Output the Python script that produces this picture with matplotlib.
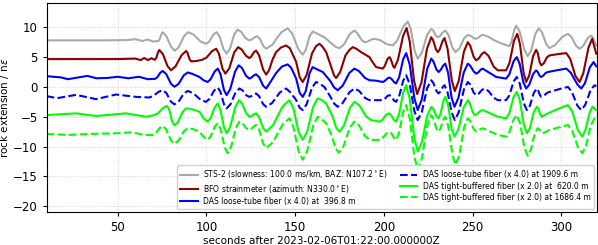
import matplotlib
matplotlib.use("Agg")
from matplotlib import pyplot as plt

# DATA (seconds / n-strain) ###################################
sts_t = [10, 40, 55, 60, 64, 67, 70, 73, 73.7, 74.7, 75.4, 77.4, 80.2, 82.2, 84.5, 87.5, 89.7, 92.7, 96.8, 99.8,
         101.6, 104, 105.8, 107.5, 109.7, 111.4, 113.3, 115.7, 117.6, 119.6, 122.2, 124.2, 125.5, 127.3, 128.6,
         130.1, 132.2, 133.7, 137.3, 139.8, 142.2, 145.8, 148.4, 151.8, 154.3, 156, 158.2, 159.9, 162, 166.5,
         170.5, 173, 175, 177.5, 180.8, 183.3, 185, 187.4, 189.1, 190.8, 193, 194.7, 197.8, 201.9, 205, 207.5,
         211, 213.5, 215.2, 217.4, 219.1, 221.4, 224.4, 226.7, 227.8, 229.3, 230.4, 231.7, 233.4, 234.7, 236.4,
         238.7, 240.4, 242.5, 245.2, 247.3, 248.7, 250.6, 252, 253.1, 254.6, 255.7, 259, 263, 267, 270.8, 271.9,
         273.5, 274.6, 276.6, 279.2, 281.1, 283, 285.4, 287.3, 289.1, 291.5, 293.3, 296.4, 300.6, 303.7, 305.7,
         308.3, 310.3, 312.3, 314.9, 316.9, 317.7, 319.7]
sts_v = [7.8, 7.8, 7.85, 8.0, 7.7, 7.95, 7.6, 7.7, 8.0, 8.9, 9.17, 8.55, 6.7, 6.07, 6.7, 8.55, 9.17, 8.8, 7.6, 7.23,
         7.6, 8.8, 9.17, 8.45, 6.3, 5.57, 6.4, 8.8, 9.6, 9.25, 8.15, 7.8, 7.95, 8.35, 8.5,
         8.1, 6.8, 6.4, 7.1, 8.2, 9.15, 9.83, 8.95, 6.3, 5.4, 6.2, 8.5, 9.28, 9.0, 8.33,
         7.3, 6.7, 6.5, 7.1, 8.85, 9.45, 9.05, 7.9, 7.5, 7.6, 7.95, 8.07, 7.85, 7.15, 6.95, 7.75,
         10.15, 10.95, 9.7, 6.0, 4.73, 5.73, 8.73, 9.73, 9.45, 8.6, 8.33, 8.55, 9.2, 9.45, 8.7,
         6.55, 5.83, 6.4, 8.15, 8.73, 8.6, 8.2, 8.07, 8.2, 8.6, 8.73, 8.4, 7.7, 7.2, 6.83, 7.5,
         9.6, 10.28, 9.25, 6.2, 5.17, 6.1, 8.9, 9.83, 9.15, 7.2, 6.5, 7.0, 8.4, 8.9, 8.4,
         6.9, 6.4, 6.85, 8.2, 8.62, 8.3, 6.95]

bfo_t = [10, 50, 60, 63, 65, 67, 69, 71, 71.8, 72.8, 73.5, 75.5, 78.1, 80.1, 82.6, 86.1, 88.6, 89.4, 90.6, 91.4,
         94.5, 97.9, 100.2, 103.2, 105.5, 107.1, 109.1, 110.7, 112.9, 115.7, 117.9, 119.8, 122.4, 124.2, 125.3,
         126.9, 128, 129.7, 132, 133.7, 135.3, 137.3, 139.3, 142, 144.9, 147, 150.6, 152.6, 154.3, 156.5, 159.5,
         161.8, 163.7, 165.3, 167.5, 170.4, 172, 173.1, 175.4, 178.4, 180.6, 182.5, 184.5, 187.2, 191.9, 193.8,
         195.6, 199.4, 200.5, 202.1, 203.2, 204, 205.2, 206, 208, 210.8, 212.8, 214.6, 217, 218.8, 221.2, 224.3,
         226.7, 227.8, 229.3, 230.4, 231.5, 233.1, 234.2, 235.9, 238.3, 240, 242.2, 245.1, 247.3, 248.7, 250.6,
         252, 253.4, 255.3, 256.7, 259, 261.9, 264.2, 268.9, 270.8, 273.3, 275.2, 276.7, 278.7, 280.2, 281.9,
         284.1, 285.8, 286.7, 287.8, 288.7, 290.1, 291.9, 293.3, 298, 302.8, 305, 308, 310.3, 312.4, 315.3,
         317.4, 319.7]
bfo_v = [4.67, 4.67, 4.75, 4.5, 4.85, 4.5, 4.8, 4.55, 4.9, 5.85, 6.2, 5.5, 3.5, 2.78, 3.45, 5.35, 6.03, 5.7, 4.6, 4.28,
         4.35, 4.57, 4.95, 6.0, 6.4, 5.55, 3.05, 2.23, 3.1, 5.8, 6.67, 6.3, 5.2, 4.83, 5.1,
         5.85, 6.1, 5.3, 2.9, 2.07, 2.8, 4.6, 5.83, 6.6, 6.95, 6.5, 4.2, 1.6, 0.83, 2.0, 5.6,
         6.83, 7.23, 6.8, 5.83, 3.3, 1.9, 1.5, 2.5, 5.3, 6.2, 6.67, 6.4, 5.83, 5.0, 4.1,
         3.33, 3.07, 3.5, 4.7, 5.0, 4.6, 3.5, 3.2, 4.6, 8.5, 9.9, 7.6, 1.1, -1.2, 0.75, 6.4,
         8.33, 7.8, 6.35, 5.83, 6.3, 7.7, 8.2, 6.4, 1.1, -0.7, 1.0, 5.9, 7.5, 6.9, 5.05,
         4.45, 4.75, 5.55, 5.83, 5.2, 3.4, 2.78, 2.78, 4.0, 7.7, 8.9, 7.2, 2.45, 0.83, 1.9,
         5.15, 6.23, 5.7, 4.15, 3.62, 3.95, 4.95, 5.28, 5.5, 5.67, 4.7, 1.8, 0.83, 2.3, 6.6,
         8.07, 5.57]

das1_t = [10, 18, 22, 28, 33, 38, 44, 50, 56, 62, 67, 71, 72.3, 74.1, 75.4, 77.4, 80, 82, 84.3, 87.3, 89.5, 92,
          96.1, 98.5, 100.7, 102.4, 104.7, 106.4, 107.9, 109.9, 111.4, 113.4, 116.2, 118.2, 120, 122.4, 124.2,
          125.3, 126.9, 128, 129.7, 132, 133.7, 135.6, 139.3, 142.5, 145.8, 147.8, 150.6, 152.6, 154.3, 156,
          158.2, 159.9, 162, 165.6, 169.8, 172, 174, 176.8, 180.6, 183.4, 186, 189.4, 191.9, 195.6, 199.4, 200.5,
          202.1, 203.2, 204.3, 205.8, 206.9, 208.6, 210.9, 212.6, 214.6, 217.2, 219.1, 221.4, 224.4, 226.7, 227.9,
          229.6, 230.8, 231.9, 233.5, 234.6, 236.2, 238.2, 239.8, 242, 245, 247.3, 248.7, 250.6, 252, 253.1,
          254.6, 255.7, 263.3, 268.9, 270.7, 273.1, 274.9, 276.5, 278.6, 280.2, 281.9, 284.1, 285.8, 286.6,
          287.7, 288.5, 289.7, 291.2, 292.4, 297.6, 302.8, 305.3, 309.1, 311.2, 313.3, 316.1, 318.2, 319.7]
das1_v = [1.8, 1.6, 1.3, 1.6, 1.85, 1.45, 1.5, 1.7, 1.45, 1.7, 1.3, 1.35, 1.6, 2.4, 2.67, 2.15, 0.55, 0.03, 0.5, 1.95, 2.42, 2.2,
          1.67, 1.1, 0.83, 1.3, 2.6, 3.07, 2.2, -0.5, -1.38, -0.4, 2.6, 3.62, 3.2, 1.85, 1.4,
          1.55, 1.95, 2.12, 1.65, 0.2, -0.27, 0.6, 2.33, 3.4, 3.78, 3.2, 1.4, -1.0, -1.67, -0.7,
          2.35, 3.33, 3.0, 2.5, 1.0, -0.1, -0.55, 0.2, 2.35, 3.07, 2.65, 1.5, 1.12, 1.05, 0.83, 1.0,
          1.45, 1.57, 1.35, 0.8, 0.57, 1.6, 4.65, 5.67, 3.7, -1.9, -3.88, -2.1, 3.0, 4.73, 4.3,
          2.95, 2.5, 2.8, 3.6, 3.9, 2.4, -1.85, -3.33, -1.85, 2.4, 3.9, 3.55, 2.6, 2.23, 2.4,
          2.9, 3.07, 1.67, 1.4, 2.1, 4.3, 5.0, 3.9, 0.8, -0.27, 0.35, 2.15, 2.78, 2.55,
          1.9, 1.67, 1.85, 2.35, 2.5, 2.8, 3.07, 2.4, 0.4, -0.27, 0.6, 3.3, 4.17, 3.45]

das2_t = [10, 16, 26.6, 37.8, 49.1, 60.4, 67.9, 70.1, 73.2, 75.4, 77.4, 80, 82, 84.3, 87.3, 89.5, 92.6, 96.7, 99.8,
          101.8, 104.4, 106.4, 107.9, 109.9, 111.4, 113.6, 116.4, 118.6, 120.3, 122.5, 124.2, 125.3, 126.9, 128,
          129.7, 132, 133.7, 137, 141.5, 144.9, 147, 150.6, 152.6, 154.3, 156.5, 159.5, 161.8, 163.5, 166.5,
          169.8, 172, 174, 176.8, 180.6, 183.4, 186, 189.4, 191.9, 199.4, 200.5, 202.1, 203.2, 204.3, 205.8,
          206.9, 208.6, 210.9, 212.6, 214.6, 217.2, 219.1, 221.4, 224.4, 226.7, 227.9, 229.6, 230.8, 231.8, 233.2,
          234.2, 235.9, 238.3, 240, 242.2, 245.1, 247.3, 248.7, 250.6, 252, 253.4, 255.3, 256.7, 259, 261.9,
          264.2, 268.9, 270.7, 273.1, 274.9, 276.6, 278.9, 280.6, 282.3, 284.5, 286.2, 286.9, 288, 288.7, 290.1,
          291.9, 293.3, 298.5, 303.7, 305.9, 309, 311.2, 313.4, 316.5, 318.7, 319.7]
das2_v = [-1.55, -1.88, -1.33, -2.05, -1.27, -1.67, -1.77, -1.5, -0.8, -0.55, -1.0, -2.45, -2.93, -2.5, -1.1, -0.67, -1.05, -2.15, -2.5,
          -2.0, -0.6, -0.1, -0.8, -2.9, -3.6, -2.9, -0.95, -0.27, -0.55, -1.4, -1.67, -1.55, -1.2, -1.1,
          -1.55, -2.9, -3.33, -2.7, -0.9, -0.27, -0.8, -2.2, -3.5, -3.88, -2.9, -0.15, 0.83, 0.6, 0.0,
          -1.6, -2.8, -3.33, -2.7, -0.9, -0.27, -0.65, -1.85, -2.22, -2.22, -2.0, -1.5, -1.38, -1.6, -2.3,
          -2.5, -1.6, 1.05, 1.95, 0.45, -4.05, -5.55, -4.2, -0.2, 1.12, 0.65, -0.65, -1.1, -0.8, 0.0,
          0.28, -0.9, -4.35, -5.55, -4.25, -0.45, 0.83, 0.4, -0.95, -1.38, -1.15, -0.5, -0.27, -0.7, -1.8,
          -2.22, -2.22, -1.45, 0.9, 1.67, 0.55, -2.75, -3.88, -3.15, -1.0, -0.27, -0.55, -1.4, -1.67, -1.5,
          -1.0, -0.83, -0.4, 0.0, -0.8, -3.1, -3.88, -3.05, -0.55, 0.28, 0.1]

das3_t = [10, 26.6, 37.8, 54.7, 65.9, 70.7, 72.8, 75.7, 77.8, 79.1, 80.7, 82, 84, 86.6, 88.6, 91.5, 96.1, 98.5, 100.7,
          102.4, 104.7, 106.4, 107.9, 109.9, 111.4, 113.5, 116.3, 118.4, 120.1, 122.5, 124.2, 125.3, 126.9, 128,
          129.7, 132, 133.7, 137.6, 142.9, 146.8, 149, 152, 154.3, 156.8, 160.2, 162.7, 164.5, 167.5, 171.2,
          173.2, 175, 177.5, 180.9, 183.4, 186.2, 190, 192.8, 197.5, 199.1, 201.2, 202.8, 204, 205.7, 206.9,
          208.6, 210.9, 212.6, 214.6, 217.2, 219.1, 221.4, 224.4, 226.7, 227.9, 229.6, 230.8, 231.9, 233.5,
          234.6, 236.2, 238.2, 239.8, 242, 245, 247.3, 248.4, 250, 251.1, 252.5, 254.3, 255.7, 264.2, 268.9,
          270.7, 273.1, 274.9, 276.6, 278.9, 280.6, 282.3, 284.5, 286.2, 287, 288.2, 289, 290.7, 292.4, 298,
          303.7, 306.1, 309.4, 311.8, 313.5, 316, 317.5, 319.7]
das3_v = [-4.72, -4.43, -4.88, -4.43, -5.0, -4.72, -4.4, -3.5, -3.17, -3.85, -5.8, -6.47, -5.9, -4.2, -3.6, -3.7, -4.17, -5.3, -5.83,
          -5.2, -3.4, -2.77, -3.8, -6.75, -7.77, -6.65, -3.35, -2.22, -2.8, -4.45, -5.0, -4.9, -4.55, -4.43,
          -5.05, -6.9, -7.5, -6.4, -3.3, -2.22, -3.55, -7.55, -8.88, -7.5, -3.3, -1.93, -2.1, -2.77, -5.0,
          -6.9, -7.5, -6.5, -3.5, -2.5, -3.1, -4.95, -5.55, -5.83, -5.55, -4.7, -4.43, -4.7, -5.55, -5.83,
          -4.6, -0.95, 0.28, -2.0, -8.6, -10.83, -9.3, -4.85, -3.33, -3.7, -4.9, -5.27, -4.55, -2.4,
          -1.67, -3.0, -7.0, -8.33, -7.1, -3.45, -2.22, -2.7, -4.2, -4.72, -4.55, -4.05, -3.88, -5.0, -5.27,
          -4.4, -1.7, -0.83, -2.2, -6.4, -7.77, -6.9, -4.2, -3.33, -3.65, -4.65, -5.0, -4.7, -4.43, -3.7,
          -3.05, -4.1, -7.3, -8.33, -7.3, -4.3, -3.3, -3.9]

das4_t = [10, 22, 35, 50, 58, 65, 70, 71.6, 73.8, 75.4, 77.4, 80, 82, 84.3, 87.3, 89.5, 92.3, 96.1, 98.5, 100.7,
          102.4, 104.7, 106.4, 108.1, 110.3, 112, 114, 116.6, 118.6, 120.3, 122.5, 124.2, 125.3, 126.9, 128,
          129.7, 132, 133.7, 137.6, 142.9, 146.8, 149, 152, 154.3, 156.8, 160.2, 162.7, 164.5, 167.5, 170.8,
          172.7, 174.5, 177.2, 180.7, 183.4, 186, 189.4, 192, 197.5, 199.2, 201.5, 203.2, 204.3, 205.8, 206.9,
          208.6, 210.9, 212.6, 214.6, 217.2, 219.1, 221.4, 224.4, 226.7, 227.9, 229.6, 230.8, 231.9, 233.5,
          234.6, 236.3, 238.7, 240.4, 242.5, 245.2, 247.3, 248.7, 250.6, 252, 253.1, 254.6, 255.7, 264.2, 268.9,
          270.7, 273.1, 274.9, 276.8, 279.2, 281.1, 282.8, 285, 286.7, 287.5, 288.7, 289.5, 291.2, 293.3, 298.5,
          303.7, 306.1, 309.4, 311.8, 313.9, 316.6, 318.7, 319.7]
das4_v = [-7.88, -8.05, -7.88, -7.77, -7.6, -8.05, -8.05, -7.75, -6.85, -6.55, -7.15, -8.95, -9.55, -9.0, -7.45, -6.93, -7.05, -7.5, -8.4, -8.88,
          -8.3, -6.65, -6.1, -7.1, -10.1, -11.1, -10.0, -6.9, -5.83, -6.1, -6.95, -7.22, -7.05, -6.55, -6.38,
          -7.15, -9.5, -10.27, -9.25, -6.3, -5.27, -6.7, -10.8, -12.22, -10.75, -6.5, -5.0, -5.3, -6.1, -8.3,
          -10.2, -11.05, -10.0, -6.9, -5.83, -6.45, -8.25, -8.88, -8.88, -8.6, -7.8, -7.5, -7.8, -8.6, -8.88,
          -7.7, -4.2, -3.05, -5.25, -11.7, -13.88, -12.0, -6.55, -4.72, -5.3, -6.95, -7.5, -7.0, -5.5,
          -5.0, -6.6, -11.45, -13.05, -11.5, -6.8, -5.27, -5.7, -7.05, -7.5, -7.4, -7.05, -6.93, -8.05, -8.33,
          -7.6, -5.45, -4.72, -6.1, -10.2, -11.55, -10.6, -7.85, -6.93, -7.1, -7.6, -7.77, -7.55, -7.22, -6.8,
          -6.38, -7.3, -10.15, -11.1, -9.9, -6.45, -5.27, -5.5]

labels = [
    "STS-2 (slowness: 100.0 ms/km, BAZ: N107.2$^\\circ$E)",
    "BFO strainmeter (azimuth: N330.0$^\\circ$E)",
    "DAS loose-tube fiber (x 4.0) at  396.8 m",
    "DAS loose-tube fiber (x 4.0) at 1909.6 m",
    "DAS tight-buffered fiber (x 2.0) at  620.0 m",
    "DAS tight-buffered fiber (x 2.0) at 1686.4 m",
]

# PLOT ########################################################
fig = plt.figure(figsize=(5.98, 2.45), dpi=100)
ax = fig.add_axes([0.078, 0.134, 0.92, 0.852])

ax.plot(sts_t, sts_v, color="darkgray", lw=1.5, label=labels[0])
ax.plot(bfo_t, bfo_v, color="darkred", lw=1.5, label=labels[1])
ax.plot(das1_t, das1_v, color="blue", lw=1.5, label=labels[2])
ax.plot(das2_t, das2_v, color="blue", lw=1.5, ls="--", label=labels[3])
ax.plot(das3_t, das3_v, color="lime", lw=1.5, label=labels[4])
ax.plot(das4_t, das4_v, color="lime", lw=1.5, ls="--", label=labels[5])

ax.set_xlim(10, 320)
ax.set_ylim(-21, 14)
ax.set_yticks([-20, -15, -10, -5, 0, 5, 10])
ax.set_xticks([50, 100, 150, 200, 250, 300])
ax.tick_params(labelsize=8.5, length=3)
ax.grid(color="lightgray", ls=":", lw=0.7)
ax.set_ylabel("rock extension / n$\\epsilon$", fontsize=7.5, labelpad=1)
ax.set_xlabel("seconds after 2023-02-06T01:22:00.000000Z", fontsize=7.5, labelpad=1)
ax.legend(loc="lower right", ncol=2, fontsize=5.5, handlelength=2.3, handletextpad=0.7,
          columnspacing=1.6, labelspacing=0.3, borderpad=0.4, borderaxespad=0.4, framealpha=0.9)

plt.savefig("out.png", dpi=100)
